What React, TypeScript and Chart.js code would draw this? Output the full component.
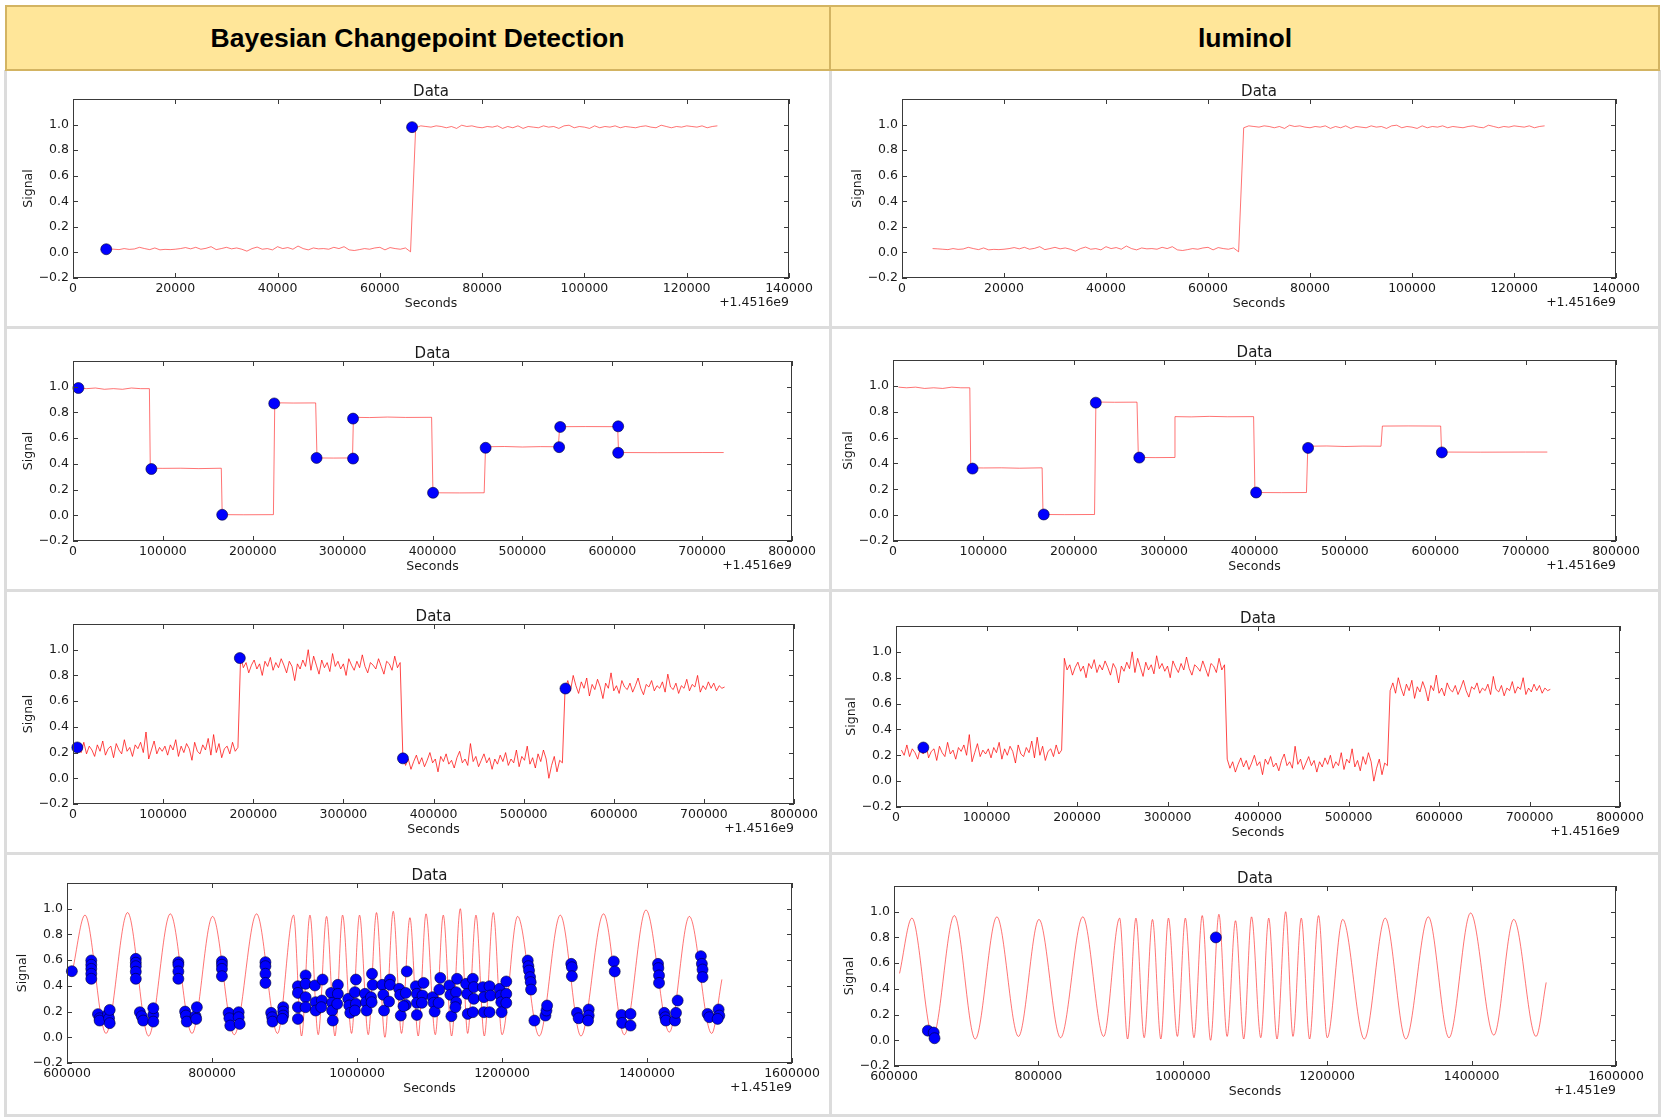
import React, { useEffect, useRef } from 'react';
import { Chart, registerables } from 'chart.js';

Chart.register(...registerables);

// ---------------- DATA ----------------
const HEADER_LEFT = 'Bayesian Changepoint Detection';
const HEADER_RIGHT = 'luminol';
const TITLE = 'Data';
const X_LABEL = 'Seconds';
const Y_LABEL = 'Signal';
const OFFSET_A = '+1.4516e9';
const OFFSET_B = '+1.451e9';
const Y_TICKS = [-0.2, 0.0, 0.2, 0.4, 0.6, 0.8, 1.0, 1.2];

// Row 1: single step (sampled every 1000 s from 6000 s)
const STEP1_START = 6000;
const STEP1_DT = 1000;
const STEP1_VALUES = [
  0.030, 0.028, 0.025, 0.022, 0.030, 0.024, 0.027, 0.040, 0.030, 0.022,
  0.035, 0.020, 0.024, 0.022, 0.025, 0.030, 0.038, 0.028, 0.040, 0.025,
  0.032, 0.045, 0.022, 0.030, 0.040, 0.028, 0.035, 0.025, 0.010, 0.030,
  0.042, 0.025, 0.030, 0.020, 0.045, 0.030, 0.038, 0.025, 0.050, 0.030,
  0.020, 0.035, 0.028, 0.030, 0.025, 0.040, 0.030, 0.045, 0.020, 0.015,
  0.022, 0.030, 0.025, 0.035, 0.040, 0.020, 0.038, 0.030, 0.025, 0.035,
  0.005,
  0.975, 0.990, 0.985, 0.980, 0.990, 0.985, 0.975, 0.985, 0.970, 0.995,
  0.985, 0.990, 0.980, 0.975, 0.985, 0.980, 0.990, 0.970, 0.985, 0.975,
  0.990, 0.970, 0.985, 0.980, 0.975, 0.990, 0.980, 0.985, 0.970, 0.990,
  0.995, 0.975, 0.985, 0.980, 0.970, 0.990, 0.975, 0.985, 0.980, 0.990,
  0.975, 0.985, 0.980, 0.975, 0.985, 0.990, 0.980, 0.975, 0.995, 0.985,
  0.975, 0.985, 0.980, 0.990, 0.985, 0.980, 0.990, 0.975, 0.985, 0.990,
];
const BCD_R1_POINTS: [number, number][] = [[6500, 0.025], [66300, 0.98]];
const LUM_R1_POINTS: [number, number][] = [];

// Row 2: multi-level steps
const STEP2_T = [
  6000, 15000, 25000, 35000, 45000, 55000, 65000, 75000, 85000,
  86000, 100000, 120000, 140000, 165000,
  166000, 190000, 223000,
  224500, 245000, 270000,
  271500, 290000, 311000,
  312000, 330000, 350000, 370000, 399000,
  400500, 430000, 457500,
  459000, 480000, 500000, 520000, 540000,
  541500, 570000, 606000,
  607000, 650000, 700000, 724000,
];
const STEP2_V = [
  0.99, 0.985, 0.99, 0.98, 0.985, 0.98, 0.99, 0.985, 0.985,
  0.366, 0.365, 0.366, 0.363, 0.366,
  0.005, 0.004, 0.005,
  0.875, 0.873, 0.874,
  0.446, 0.445, 0.446,
  0.762, 0.760, 0.764, 0.761, 0.762,
  0.175, 0.174, 0.175,
  0.533, 0.535, 0.531, 0.534, 0.533,
  0.689, 0.690, 0.689,
  0.488, 0.487, 0.488, 0.488,
];
const BCD_R2_POINTS: [number, number][] = [
  [6000, 0.99], [87200, 0.36], [166000, 0.004], [223900, 0.87], [271000, 0.446],
  [311600, 0.441], [311600, 0.752], [400600, 0.175], [459100, 0.525], [540900, 0.53],
  [542100, 0.687], [606600, 0.692], [606600, 0.486],
];
const LUM_R2_POINTS: [number, number][] = [
  [88000, 0.36], [166800, 0.005], [224400, 0.87], [272500, 0.445],
  [401800, 0.175], [459300, 0.52], [607300, 0.485],
];

// Row 3: noisy steps (sampled every 3000 s from 6000 s)
const STEP3_START = 6000;
const STEP3_DT = 3000;
const STEP3_VALUES = [
  0.24, 0.20, 0.28, 0.19, 0.25, 0.22, 0.17, 0.26, 0.21, 0.29,
  0.18, 0.23, 0.25, 0.16, 0.27, 0.22, 0.19, 0.30, 0.21, 0.24,
  0.17, 0.26, 0.23, 0.28, 0.20, 0.36, 0.15, 0.22, 0.29, 0.19,
  0.24, 0.21, 0.25, 0.18, 0.26, 0.22, 0.30, 0.17, 0.25, 0.20,
  0.27, 0.23, 0.14, 0.28, 0.21, 0.19, 0.26, 0.22, 0.31, 0.18,
  0.34, 0.20, 0.27, 0.16, 0.23, 0.25, 0.19, 0.28, 0.21, 0.24,
  0.95, 0.86, 0.90, 0.82, 0.88, 0.92, 0.85, 0.89, 0.80, 0.91,
  0.87, 0.94, 0.84, 0.90, 0.86, 0.93, 0.88, 0.82, 0.91, 0.87,
  0.76, 0.89, 0.85, 0.92, 0.87, 1.00, 0.84, 0.95, 0.88, 0.81,
  0.92, 0.86, 0.90, 0.83, 0.97, 0.87, 0.91, 0.85, 0.89, 0.80,
  0.93, 0.88, 0.84, 0.91, 0.86, 0.96, 0.87, 0.82, 0.90, 0.88,
  0.85, 0.93, 0.87, 0.81, 0.91, 0.89, 0.84, 0.95, 0.86, 0.90,
  0.17, 0.10, 0.15, 0.07, 0.13, 0.18, 0.11, 0.16, 0.09, 0.14,
  0.20, 0.12, 0.15, 0.05, 0.17, 0.13, 0.19, 0.11, 0.14, 0.08,
  0.16, 0.21, 0.12, 0.15, 0.10, 0.27, 0.13, 0.17, 0.09, 0.14,
  0.19, 0.12, 0.16, 0.07, 0.15, 0.11, 0.18, 0.13, 0.20, 0.10,
  0.15, 0.12, 0.22, 0.09, 0.17, 0.14, 0.25, 0.11, 0.16, 0.08,
  0.19, 0.13, 0.22, 0.15, 0.00, 0.10, 0.17, 0.05, 0.14, 0.12,
  0.70, 0.76, 0.68, 0.80, 0.72, 0.66, 0.75, 0.70, 0.78, 0.64,
  0.73, 0.69, 0.77, 0.71, 0.62, 0.74, 0.70, 0.82, 0.68, 0.72,
  0.66, 0.76, 0.71, 0.69, 0.74, 0.67, 0.72, 0.78, 0.70, 0.65,
  0.73, 0.71, 0.76, 0.68, 0.72, 0.70, 0.75, 0.67, 0.81, 0.71,
  0.69, 0.74, 0.66, 0.72, 0.70, 0.77, 0.68, 0.73, 0.71, 0.80,
  0.67, 0.72, 0.69, 0.75, 0.70, 0.74, 0.68, 0.72, 0.70, 0.71,
];
const BCD_R3_POINTS: [number, number][] = [[4800, 0.24], [185100, 0.935], [366100, 0.155], [546400, 0.698]];
const LUM_R3_POINTS: [number, number][] = [[30200, 0.26]];

// Row 4: oscillation, peaks and troughs
const WAVE_T = [
  607700, 624800, 653800, 683600, 712500, 742500, 772400, 800800, 830700, 861500,
  890400, 912500, 923500, 935100, 946500, 958000, 969600, 980100, 992500, 1003500,
  1015500, 1026900, 1038500, 1050000, 1061400, 1073000, 1084400, 1095200, 1108000, 1119000,
  1130500, 1142500, 1152600, 1164100, 1175600, 1188000, 1200000, 1221500, 1251400, 1280400,
  1308900, 1340100, 1368700, 1398600, 1430800, 1458400, 1489200, 1503300,
];
const WAVE_V = [
  0.52, 0.95, 0.03, 0.97, 0.01, 0.96, 0.03, 0.94, 0.02, 0.96,
  0.03, 0.95, 0.01, 0.95, 0.02, 0.94, 0.01, 0.95, 0.03, 0.95,
  0.02, 0.97, 0.00, 0.98, 0.03, 0.93, 0.01, 0.96, 0.02, 0.95,
  0.01, 1.00, 0.03, 0.95, 0.01, 0.97, 0.02, 0.94, 0.01, 0.95,
  0.01, 0.96, 0.02, 0.99, 0.04, 0.94, 0.03, 0.45,
];
const BCD_R4_POINTS: [number, number][] = [
  [606700, 0.514],
  [633500, 0.597], [633500, 0.564], [633500, 0.532], [633500, 0.494], [633500, 0.455],
  [642700, 0.18], [645000, 0.148], [645000, 0.13], [656600, 0.18], [658000, 0.148], [658900, 0.213], [658900, 0.11],
  [694900, 0.61], [694900, 0.58], [694900, 0.553], [694900, 0.51], [694900, 0.455],
  [700500, 0.195], [703000, 0.164], [705100, 0.13], [719000, 0.174], [719000, 0.226], [719000, 0.122],
  [753600, 0.584], [753600, 0.564], [753600, 0.512], [753600, 0.455],
  [762900, 0.2], [764000, 0.169], [765200, 0.122], [777300, 0.164], [778200, 0.143], [779100, 0.234],
  [813700, 0.59], [813700, 0.564], [813700, 0.532], [813700, 0.475],
  [822900, 0.19], [824000, 0.148], [825200, 0.091], [836800, 0.195], [836800, 0.156], [838200, 0.104],
  [873700, 0.584], [873700, 0.553], [873700, 0.494], [873700, 0.423],
  [881600, 0.19], [883000, 0.156], [883500, 0.122], [898200, 0.234], [898200, 0.2], [898200, 0.169], [897000, 0.143],
  [918500, 0.397], [918500, 0.345], [918500, 0.234], [918500, 0.143],
  [929100, 0.481], [929100, 0.416], [929100, 0.312], [929100, 0.234],
  [941900, 0.403], [952500, 0.449], [943000, 0.273], [943000, 0.208], [951600, 0.286], [950700, 0.234],
  [964300, 0.345], [965700, 0.268], [965700, 0.208], [966600, 0.13], [973600, 0.408], [973600, 0.338], [972700, 0.26],
  [987900, 0.299], [989300, 0.247], [990700, 0.19], [997100, 0.351], [998500, 0.449], [998500, 0.26], [997100, 0.208],
  [1011000, 0.338], [1012400, 0.273], [1013300, 0.208], [1019300, 0.312], [1020700, 0.494], [1021600, 0.408], [1020200, 0.273],
  [1034900, 0.408], [1036300, 0.33], [1037300, 0.208], [1044200, 0.278], [1045500, 0.449], [1045500, 0.408],
  [1058100, 0.377], [1059500, 0.33], [1060400, 0.169], [1067300, 0.345], [1068700, 0.512], [1067300, 0.252], [1064100, 0.242],
  [1081200, 0.397], [1082600, 0.338], [1082600, 0.268], [1082600, 0.174], [1090400, 0.325], [1091800, 0.423], [1089500, 0.268],
  [1104300, 0.312], [1105700, 0.268], [1107100, 0.2], [1113600, 0.371], [1114900, 0.462], [1112600, 0.268],
  [1127400, 0.403], [1128800, 0.33], [1130200, 0.164], [1136700, 0.351], [1138000, 0.455], [1136700, 0.273], [1135700, 0.234],
  [1150500, 0.416], [1151900, 0.338], [1152800, 0.182], [1159800, 0.455], [1161100, 0.39], [1161100, 0.299], [1159800, 0.195],
  [1173600, 0.39], [1175000, 0.312], [1175000, 0.195], [1182800, 0.397], [1184200, 0.325], [1182800, 0.195],
  [1196700, 0.377], [1198100, 0.325], [1199000, 0.273], [1199500, 0.195], [1205900, 0.434], [1205900, 0.338], [1205900, 0.268],
  [1235500, 0.597], [1236400, 0.553], [1237300, 0.519], [1238700, 0.468], [1239600, 0.429], [1240100, 0.371],
  [1244700, 0.13], [1259900, 0.169], [1261300, 0.208], [1262200, 0.247],
  [1295500, 0.571], [1296400, 0.545], [1296400, 0.475],
  [1303400, 0.19], [1305700, 0.148], [1319600, 0.216], [1319600, 0.169], [1318700, 0.13],
  [1354200, 0.59], [1355500, 0.512],
  [1364800, 0.174], [1365700, 0.112], [1377300, 0.182], [1377300, 0.091],
  [1415200, 0.571], [1415700, 0.538], [1416600, 0.481], [1416600, 0.423],
  [1423800, 0.19], [1425200, 0.156], [1426100, 0.13], [1438600, 0.13], [1440000, 0.19], [1442300, 0.286],
  [1474300, 0.631], [1475700, 0.571], [1476600, 0.527], [1476600, 0.468],
  [1483600, 0.182], [1485900, 0.156], [1498800, 0.216], [1499700, 0.169], [1497400, 0.143],
];
const LUM_R4_POINTS: [number, number][] = [[646900, 0.075], [655000, 0.06], [656100, 0.016], [1045800, 0.8]];

// ---------------- build ----------------
type XY = { x: number; y: number };
const sampled = (start: number, dt: number, vals: number[]): XY[] => vals.map((v, i) => ({ x: start + i * dt, y: v }));
const paired = (t: number[], v: number[]): XY[] => t.map((x, i) => ({ x, y: v[i] }));
const pts = (p: [number, number][]): XY[] => p.map(([x, y]) => ({ x, y }));

const LINE1 = sampled(STEP1_START, STEP1_DT, STEP1_VALUES);
const LINE2 = paired(STEP2_T, STEP2_V);
const LINE3 = sampled(STEP3_START, STEP3_DT, STEP3_VALUES);
const LINE4 = paired(WAVE_T, WAVE_V);

type PanelSpec = {
  key: string;
  cell: [number, number, number, number]; // x, y, w, h
  box: [number, number, number, number]; // left, top, right, bottom
  line: XY[];
  points: XY[];
  xr: [number, number, number];
  offset: string;
  smooth?: boolean;
  lineColor: string;
};

const LC = [7, 822];
const RC = [832, 826];
const ROWS = [[71, 255], [329, 260], [592, 260], [855, 259]];
const RED_LIGHT = 'rgba(255,0,0,0.55)';
const RED_DENSE = 'rgba(255,0,0,0.72)';

const PANELS: PanelSpec[] = [
  { key: 'r1l', cell: [LC[0], ROWS[0][0], LC[1], ROWS[0][1]], box: [73, 99, 789, 278], line: LINE1, points: pts(BCD_R1_POINTS), xr: [0, 140000, 20000], offset: OFFSET_A, lineColor: RED_LIGHT },
  { key: 'r1r', cell: [RC[0], ROWS[0][0], RC[1], ROWS[0][1]], box: [902, 99, 1616, 278], line: LINE1, points: pts(LUM_R1_POINTS), xr: [0, 140000, 20000], offset: OFFSET_A, lineColor: RED_LIGHT },
  { key: 'r2l', cell: [LC[0], ROWS[1][0], LC[1], ROWS[1][1]], box: [73, 361, 792, 541], line: LINE2, points: pts(BCD_R2_POINTS), xr: [0, 800000, 100000], offset: OFFSET_A, lineColor: RED_LIGHT },
  { key: 'r2r', cell: [RC[0], ROWS[1][0], RC[1], ROWS[1][1]], box: [893, 360, 1616, 541], line: LINE2, points: pts(LUM_R2_POINTS), xr: [0, 800000, 100000], offset: OFFSET_A, lineColor: RED_LIGHT },
  { key: 'r3l', cell: [LC[0], ROWS[2][0], LC[1], ROWS[2][1]], box: [73, 624, 794, 804], line: LINE3, points: pts(BCD_R3_POINTS), xr: [0, 800000, 100000], offset: OFFSET_A, lineColor: RED_DENSE },
  { key: 'r3r', cell: [RC[0], ROWS[2][0], RC[1], ROWS[2][1]], box: [896, 626, 1620, 807], line: LINE3, points: pts(LUM_R3_POINTS), xr: [0, 800000, 100000], offset: OFFSET_A, lineColor: RED_DENSE },
  { key: 'r4l', cell: [LC[0], ROWS[3][0], LC[1], ROWS[3][1]], box: [67, 883, 792, 1063], line: LINE4, points: pts(BCD_R4_POINTS), xr: [600000, 1600000, 200000], offset: OFFSET_B, smooth: true, lineColor: RED_LIGHT },
  { key: 'r4r', cell: [RC[0], ROWS[3][0], RC[1], ROWS[3][1]], box: [894, 886, 1616, 1066], line: LINE4, points: pts(LUM_R4_POINTS), xr: [600000, 1600000, 200000], offset: OFFSET_B, smooth: true, lineColor: RED_LIGHT },
];

const FONT = '"DejaVu Sans", "Liberation Sans", sans-serif';
const TEXT = '#1a1a1a';
const YW = 40;
const XH = 20;

const framePlugin = {
  id: 'frame',
  afterDraw(chart: any, _args: any, opts: any) {
    const { ctx, chartArea: a, scales } = chart;
    ctx.save();
    ctx.strokeStyle = '#3a3a3a';
    ctx.lineWidth = 1;
    ctx.strokeRect(Math.round(a.left) + 0.5, Math.round(a.top) + 0.5, Math.round(a.right - a.left) - 1, Math.round(a.bottom - a.top) - 1);
    ctx.beginPath();
    for (const t of scales.x.ticks) {
      const px = Math.round(scales.x.getPixelForValue(t.value)) + 0.5;
      ctx.moveTo(px, a.bottom);
      ctx.lineTo(px, a.bottom - 5);
      ctx.moveTo(px, a.top);
      ctx.lineTo(px, a.top + 5);
    }
    for (const t of scales.y.ticks) {
      const py = Math.round(scales.y.getPixelForValue(t.value)) + 0.5;
      ctx.moveTo(a.left, py);
      ctx.lineTo(a.left + 5, py);
      ctx.moveTo(a.right, py);
      ctx.lineTo(a.right - 5, py);
    }
    ctx.stroke();
    ctx.fillStyle = TEXT;
    ctx.font = `15px ${FONT}`;
    ctx.textAlign = 'center';
    ctx.textBaseline = 'alphabetic';
    ctx.fillText(TITLE, (a.left + a.right) / 2, a.top - 3);
    ctx.font = `12.5px ${FONT}`;
    ctx.textBaseline = 'middle';
    ctx.fillText(X_LABEL, (a.left + a.right) / 2, a.bottom + 26);
    ctx.textAlign = 'right';
    ctx.fillText(opts.offset || '', a.right, a.bottom + 25);
    ctx.save();
    ctx.translate(a.left - 44, (a.top + a.bottom) / 2);
    ctx.rotate(-Math.PI / 2);
    ctx.textAlign = 'center';
    ctx.fillText(Y_LABEL, 0, 0);
    ctx.restore();
    ctx.restore();
  },
};

function Panel({ spec }: { spec: PanelSpec }) {
  const ref = useRef<HTMLCanvasElement>(null);
  const [cx, cy, cw, ch] = spec.cell;
  const [bl, bt, br, bb] = spec.box;
  useEffect(() => {
    const cv = ref.current;
    if (!cv) return;
    const chart = new Chart(cv, {
      type: 'scatter',
      data: {
        datasets: [
          {
            data: spec.points,
            showLine: false,
            pointRadius: 5.5,
            pointBackgroundColor: '#0000ff',
            pointBorderColor: '#000033',
            pointBorderWidth: 0.6,
            order: 0,
            clip: false,
          } as any,
          {
            data: spec.line,
            showLine: true,
            pointRadius: 0,
            borderColor: spec.lineColor,
            borderWidth: 1,
            order: 1,
            tension: 0,
            cubicInterpolationMode: spec.smooth ? 'monotone' : 'default',
          } as any,
        ],
      },
      options: {
        animation: false,
        responsive: false,
        devicePixelRatio: 1,
        events: [],
        layout: {
          padding: {
            left: bl - cx - YW,
            top: bt - cy,
            right: cx + cw - br,
            bottom: cy + ch - bb - XH,
          },
        },
        plugins: {
          legend: { display: false },
          tooltip: { enabled: false },
          title: { display: false },
          frame: { offset: spec.offset },
        } as any,
        scales: {
          x: {
            type: 'linear',
            min: spec.xr[0],
            max: spec.xr[1],
            grid: { display: false, drawTicks: false },
            border: { display: false },
            ticks: {
              stepSize: spec.xr[2],
              autoSkip: false,
              maxRotation: 0,
              minRotation: 0,
              padding: 3,
              color: TEXT,
              font: { family: FONT, size: 12.5 },
              callback: (v: any) => String(Math.round(Number(v))),
            },
            afterFit: (s: any) => { s.height = XH; },
          },
          y: {
            type: 'linear',
            min: Y_TICKS[0],
            max: Y_TICKS[Y_TICKS.length - 1],
            grid: { display: false, drawTicks: false },
            border: { display: false },
            ticks: {
              stepSize: 0.2,
              autoSkip: false,
              padding: 4,
              color: TEXT,
              font: { family: FONT, size: 12.5 },
              callback: (v: any) => {
                const n = Number(v);
                if (n > 1.1) return '';
                if (Math.abs(n) < 1e-9) return '0.0';
                return n.toFixed(1).replace('-', '\u2212');
              },
            },
            afterFit: (s: any) => { s.width = YW; },
          },
        } as any,
      },
      plugins: [framePlugin as any],
    });
    return () => chart.destroy();
  }, []);
  return (
    <canvas
      ref={ref}
      width={cw}
      height={ch}
      style={{ position: 'absolute', left: cx, top: cy, width: cw, height: ch }}
    />
  );
}

const GRAY = '#dcdcdc';
const HEAD_FONT = 'bold 26.5px "Liberation Sans", Arial, sans-serif';

export default function App() {
  useEffect(() => {
    document.body.style.margin = '0';
  }, []);
  const vlines = [4, 829, 1658];
  const hlines = [326, 589, 852, 1114];
  return (
    <div style={{ position: 'absolute', left: 0, top: 0, width: 1665, height: 1120, background: '#ffffff', overflow: 'hidden' }}>
      {vlines.map((x) => (
        <div key={'v' + x} style={{ position: 'absolute', left: x, top: 70, width: 3, height: 1047, background: GRAY }} />
      ))}
      {hlines.map((y) => (
        <div key={'h' + y} style={{ position: 'absolute', left: 4, top: y, width: 1657, height: 3, background: GRAY }} />
      ))}
      <div style={{ position: 'absolute', left: 5, top: 5, width: 1655, height: 66, background: '#ffe699', border: '2px solid #d3b462', boxSizing: 'border-box' }} />
      <div style={{ position: 'absolute', left: 829, top: 5, width: 2, height: 66, background: '#d3b462' }} />
      <div style={{ position: 'absolute', left: 5, top: 5, width: 825, height: 66, display: 'flex', alignItems: 'center', justifyContent: 'center', font: HEAD_FONT, color: '#000' }}>
        {HEADER_LEFT}
      </div>
      <div style={{ position: 'absolute', left: 830, top: 5, width: 830, height: 66, display: 'flex', alignItems: 'center', justifyContent: 'center', font: HEAD_FONT, color: '#000' }}>
        {HEADER_RIGHT}
      </div>
      {PANELS.map((p) => (
        <Panel key={p.key} spec={p} />
      ))}
    </div>
  );
}
